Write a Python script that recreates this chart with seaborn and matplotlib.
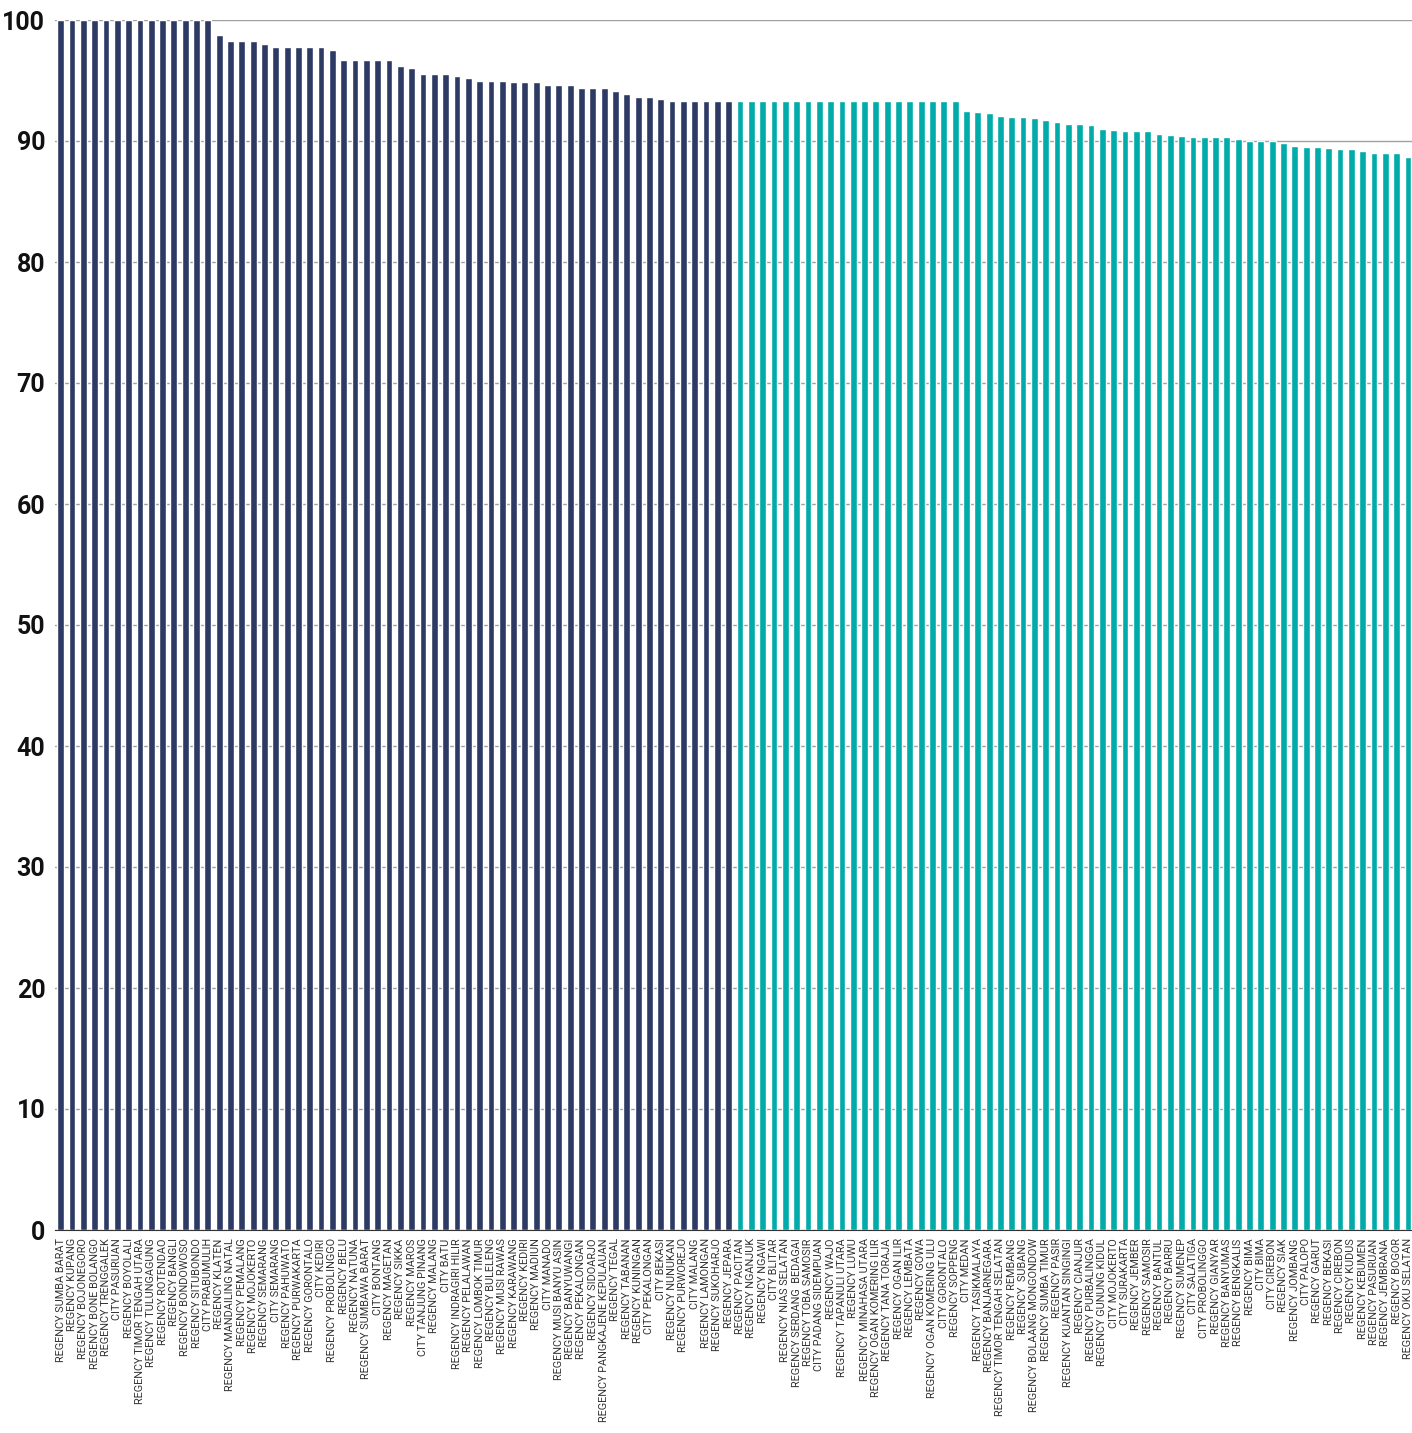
import pandas as pd
import matplotlib
matplotlib.use("Agg")
import matplotlib.pyplot as plt
import seaborn as sns

# Regiones y porcentajes
regions = [
    "REGENCY SUMBA BARAT", "REGENCY KUPANG", "REGENCY BOJONEGORO", "REGENCY BONE BOLANGO",
    "REGENCY TRENGGALEK", "CITY PASURUAN", "REGENCY BOYOLALI", "REGENCY TIMOR TENGAH UTARA",
    "REGENCY TULUNGAGUNG", "REGENCY ROTENDAO", "REGENCY BANGLI", "REGENCY BONDOWOSO",
    "REGENCY SITUBONDO", "CITY PRABUMULIH", "REGENCY KLATEN", "REGENCY MANDAILING NATAL",
    "REGENCY PEMALANG", "REGENCY MOJOKERTO", "REGENCY SEMARANG", "CITY SEMARANG",
    "REGENCY PAHUWATO", "REGENCY PURWAKARTA", "REGENCY GORONTALO", "CITY KEDIRI",
    "REGENCY PROBOLINGGO", "REGENCY BELU", "REGENCY NATUNA", "REGENCY SUMBAWA BARAT",
    "CITY BONTANG", "REGENCY MAGETAN", "REGENCY SIKKA", "REGENCY MAROS",
    "CITY TANJUNG PINANG", "REGENCY MALANG", "CITY BATU", "REGENCY INDRAGIRI HILIR",
    "REGENCY PELALAWAN", "REGENCY LOMBOK TIMUR", "REGENCY BULELENG", "REGENCY MUSI RAWAS",
    "REGENCY KARAWANG", "REGENCY KEDIRI", "REGENCY MADIUN", "CITY MANADO",
    "REGENCY MUSI BANYU ASIN", "REGENCY BANYUWANGI", "REGENCY PEKALONGAN", "REGENCY SIDOARJO",
    "REGENCY PANGKAJENE KEPULAUAN", "REGENCY TEGAL", "REGENCY TABANAN", "REGENCY KUNINGAN",
    "CITY PEKALONGAN", "CITY BEKASI", "REGENCY NUNUKAN", "REGENCY PURWOREJO",
    "CITY MALANG", "REGENCY LAMONGAN", "REGENCY SUKOHARJO", "REGENCY JEPARA",
    "REGENCY PACITAN", "REGENCY NGANJUK", "REGENCY NGAWI", "CITY BLITAR",
    "REGENCY NIAS SELATAN", "REGENCY SERDANG  BEDAGAI", "REGENCY TOBA SAMOSIR", "CITY PADANG SIDEMPUAN",
    "REGENCY WAJO", "REGENCY TAPANULI UTARA", "REGENCY LUWU", "REGENCY MINAHASA UTARA",
    "REGENCY OGAN KOMERING ILIR", "REGENCY TANA TORAJA", "REGENCY OGAN ILIR", "REGENCY LEMBATA",
    "REGENCY GOWA", "REGENCY OGAN KOMERING ULU", "CITY GORONTALO", "REGENCY SOPPENG",
    "CITY MEDAN", "REGENCY TASIKMALAYA", "REGENCY BANJARNEGARA", "REGENCY TIMOR TENGAH SELATAN",
    "REGENCY REMBANG", "REGENCY  SUBANG", "REGENCY BOLAANG MONGONDOW", "REGENCY SUMBA TIMUR",
    "REGENCY PASIR", "REGENCY KUANTAN SINGINGI", "REGENCY CIANJUR", "REGENCY PURBALINGGA",
    "REGENCY GUNUNG KIDUL", "CITY MOJOKERTO", "CITY SURAKARTA", "REGENCY JEMBER",
    "REGENCY SAMOSIR", "REGENCY BANTUL", "REGENCY BARRU", "REGENCY SUMENEP",
    "CITY SALATIGA", "CITY PROBOLINGGO", "REGENCY GIANYAR", "REGENCY BANYUMAS",
    "REGENCY BENGKALIS", "REGENCY BIMA", "CITY BIMA", "CITY CIREBON",
    "REGENCY SIAK", "REGENCY JOMBANG", "CITY PALOPO", "REGENCY GARUT",
    "REGENCY BEKASI", "REGENCY CIREBON", "REGENCY KUDUS", "REGENCY KEBUMEN",
    "REGENCY PASURUAN", "REGENCY JEMBRANA", "REGENCY BOGOR", "REGENCY OKU SELATAN",
]

values = [
    100, 100, 100, 100, 100, 100, 100, 100, 100, 100, 100, 100, 100, 100,
    98.8, 98.3, 98.3, 98.3, 98.0, 97.8, 97.8, 97.8, 97.8, 97.8, 97.5,
    96.7, 96.7, 96.7, 96.7, 96.7, 96.2, 96.0, 95.5, 95.5, 95.5, 95.4,
    95.2, 95.0, 95.0, 95.0, 94.9, 94.9, 94.9, 94.6, 94.6, 94.6, 94.4,
    94.4, 94.4, 94.1, 93.9, 93.6, 93.6, 93.5, 93.3, 93.3, 93.3, 93.3,
    93.3, 93.3, 93.3, 93.3, 93.3, 93.3, 93.3, 93.3, 93.3, 93.3, 93.3,
    93.3, 93.3, 93.3, 93.3, 93.3, 93.3, 93.3, 93.3, 93.3, 93.3, 93.3,
    92.5, 92.4, 92.3, 92.1, 92.0, 92.0, 91.9, 91.7, 91.6, 91.4, 91.4,
    91.3, 91.0, 90.9, 90.8, 90.8, 90.8, 90.6, 90.5, 90.4, 90.3, 90.3,
    90.3, 90.3, 90.2, 90.0, 90.0, 90.0, 89.8, 89.6, 89.5, 89.5, 89.4,
    89.3, 89.3, 89.2, 89.0, 89.0, 89.0, 88.7,
]

groups = ["top"] * 60 + ["rest"] * 60
colores = {"top": "#2c3a64", "rest": "#00aba9"}

df = pd.DataFrame({"region": regions, "value": values, "group": groups})

sns.set_style("white")
fig = plt.figure(figsize=(14.12, 14.33), dpi=100)
ax = fig.add_axes([55 / 1412, 1 - 1230 / 1433, 1 - 55 / 1412, 1210 / 1433])

sns.barplot(data=df, x="region", y="value", hue="group", palette=colores,
            dodge=False, width=0.6, legend=False, ax=ax, saturation=1)

ax.set_ylim(0, 100)
ax.set_xlim(-0.5, len(regions) - 0.65)
ax.set_yticks(range(0, 101, 10))
ax.yaxis.grid(True, color="#a0a0a0", linewidth=1)
ax.set_axisbelow(True)
ax.set_xlabel("")
ax.set_ylabel("")

for s in ["top", "right", "left"]:
    ax.spines[s].set_visible(False)
ax.spines["bottom"].set_color("#333333")

ax.tick_params(axis="y", length=0, pad=7)
for lab in ax.get_yticklabels():
    lab.set_fontsize(18)
    lab.set_fontweight("bold")
    lab.set_family(["Roboto", "DejaVu Sans"])
    lab.set_color("#111111")

ax.tick_params(axis="x", length=5, width=1, color="#333333", pad=1)
ax.set_xticks(range(len(regions)))
ax.set_xticklabels(regions, rotation=90, fontsize=7.8, color="#333333",
                   family=["Roboto", "DejaVu Sans"])

fig.savefig("out.png", dpi=100)
